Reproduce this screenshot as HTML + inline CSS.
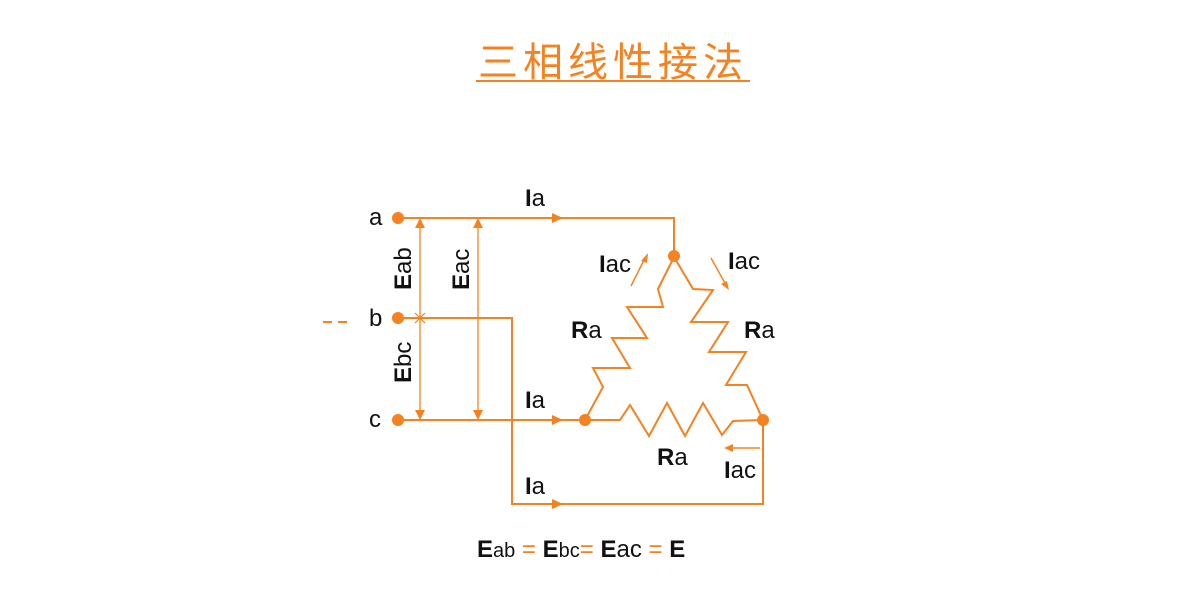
<!DOCTYPE html>
<html><head><meta charset="utf-8"><style>
body{margin:0;background:#fff;width:1200px;height:600px;overflow:hidden}
svg text{font-family:"Liberation Sans","Noto Sans CJK SC",sans-serif;}
</style></head><body>
<svg width="1200" height="600" viewBox="0 0 1200 600" xmlns="http://www.w3.org/2000/svg">
<g font-size="40" fill="#f58220"><text x="613" y="76" text-anchor="middle" font-family="Noto Sans CJK SC,sans-serif" letter-spacing="5">三相线性接法</text></g>
<line x1="476" y1="81" x2="750" y2="81" stroke="#f58220" stroke-width="2"/>
<g stroke="#f58220" stroke-width="2" fill="none">
<polyline points="398,218 674,218 674,257"/>
<polyline points="398,318 512,318 512,504 763,504 763,420"/>
<line x1="398" y1="420" x2="585" y2="420"/>
<polyline points="674,257 658,289 663,307 627,307 647,338 612,338 630,368 593,368 603,387 585,420"/>
<polyline points="674,257 693,289 713,290 691,322 728,322 709,352 746,352 726,385 747,385 763,420"/>
<polyline points="585,420 620,420 630,405 649,436 667,403 685,436 703,403 722,435 733,421 763,420"/>
<line x1="420" y1="226" x2="420" y2="412" stroke-width="1.3"/>
<line x1="478" y1="226" x2="478" y2="412" stroke-width="1.3"/>
<line x1="323" y1="322" x2="347" y2="322" stroke-dasharray="9,6"/>
<line x1="415" y1="313" x2="425" y2="323" stroke-width="1.2"/>
<line x1="425" y1="313" x2="415" y2="323" stroke-width="1.2"/>
<line x1="631" y1="286" x2="645" y2="258" stroke-width="1.5"/>
<line x1="711" y1="258" x2="726" y2="285" stroke-width="1.5"/>
<line x1="760" y1="448" x2="728" y2="448" stroke-width="1.5"/>
</g>
<g fill="#f58220">
<circle cx="398" cy="218" r="6"/><circle cx="398" cy="318" r="6"/><circle cx="398" cy="420" r="6"/>
<circle cx="674" cy="256" r="6"/><circle cx="585" cy="420" r="6"/><circle cx="763" cy="420" r="6"/>
<polygon points="563,218 552,213 552,223"/><polygon points="563,420 552,415 552,425"/><polygon points="563,504 552,499 552,509"/>
<polygon points="420,218 415,228 425,228"/><polygon points="420,420 415,410 425,410"/>
<polygon points="478,218 473,228 483,228"/><polygon points="478,420 473,410 483,410"/>
<polygon points="648,253 641,261 647,263"/><polygon points="729,290 721,284 727,281"/><polygon points="724,448 733,444 733,452"/>
</g>
<g font-size="24" fill="#111">
<text x="369" y="225">a</text><text x="369" y="326">b</text><text x="369" y="427">c</text>
<text x="525" y="206"><tspan font-weight="bold">I</tspan>a</text>
<text x="525" y="408"><tspan font-weight="bold">I</tspan>a</text>
<text x="525" y="494"><tspan font-weight="bold">I</tspan>a</text>
<text x="599" y="272"><tspan font-weight="bold">I</tspan>ac</text>
<text x="728" y="269"><tspan font-weight="bold">I</tspan>ac</text>
<text x="724" y="478"><tspan font-weight="bold">I</tspan>ac</text>
<text x="571" y="338"><tspan font-weight="bold">R</tspan>a</text>
<text x="744" y="338"><tspan font-weight="bold">R</tspan>a</text>
<text x="657" y="465"><tspan font-weight="bold">R</tspan>a</text>
<text transform="translate(411,290) rotate(-90)"><tspan font-weight="bold">E</tspan>ab</text>
<text transform="translate(469,290) rotate(-90)"><tspan font-weight="bold">E</tspan>ac</text>
<text transform="translate(411,383) rotate(-90)"><tspan font-weight="bold">E</tspan>bc</text>
<text x="477" y="557"><tspan font-weight="bold">E</tspan><tspan font-size="20">ab</tspan><tspan fill="#f58220"> =</tspan> <tspan font-weight="bold">E</tspan><tspan font-size="20">bc</tspan><tspan fill="#f58220">=</tspan> <tspan font-weight="bold">E</tspan>ac<tspan fill="#f58220"> = </tspan> <tspan font-weight="bold">E</tspan></text>
</g>
</svg>
</body></html>
